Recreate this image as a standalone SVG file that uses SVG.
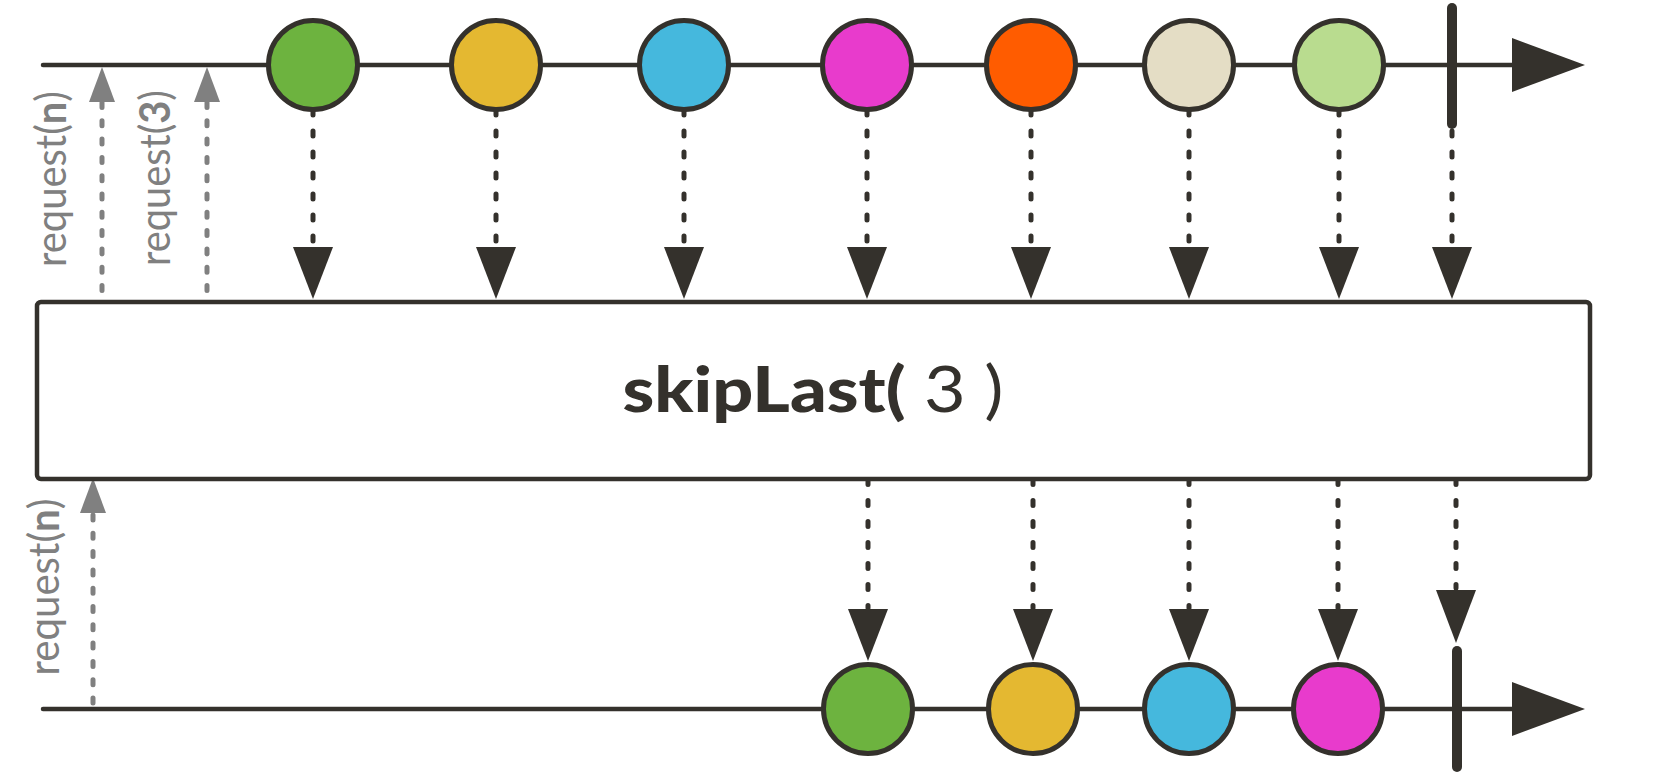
<svg xmlns="http://www.w3.org/2000/svg" width="1670" height="775" viewBox="0 0 1670 775">
  <style>
    .line { stroke: #34312c; stroke-width: 4.5; fill: none; stroke-linecap: round; }
    .term { stroke: #34312c; stroke-width: 10; stroke-linecap: round; }
    .dot { stroke: #34312c; stroke-width: 5; stroke-linecap: round; stroke-dasharray: 5 16; fill: none; }
    .gdot { stroke: #808080; stroke-width: 5; stroke-linecap: round; stroke-dasharray: 5 13.3; fill: none; }
    .head { fill: #34312c; }
    .ghead { fill: #808080; }
    .marble { stroke: #34312c; stroke-width: 5; }
    .label { font-family: Lato, "Open Sans", sans-serif; font-size: 42px; fill: #808080; }
    .title { font-family: Lato, "Open Sans", sans-serif; font-size: 63px; fill: #34312c; }
  </style>

  <!-- timelines -->
  <g id="source-timeline">
    <line class="line" x1="43" y1="65" x2="1515" y2="65"/>
    <polygon class="head" points="1512,38 1585,65 1512,92"/>
  </g>
  <g id="result-timeline">
    <line class="line" x1="43" y1="709" x2="1515" y2="709"/>
    <polygon class="head" points="1512,682 1585,709 1512,736"/>
  </g>

  <!-- connectors -->
  <g id="connectors">
    <!-- upstream emissions into the operator -->
    <line class="dot" x1="313" y1="110" x2="313" y2="243"/>
    <polygon class="head" points="293,247 333,247 313,299"/>
    <line class="dot" x1="496" y1="110" x2="496" y2="243"/>
    <polygon class="head" points="476,247 516,247 496,299"/>
    <line class="dot" x1="684" y1="110" x2="684" y2="243"/>
    <polygon class="head" points="664,247 704,247 684,299"/>
    <line class="dot" x1="867" y1="110" x2="867" y2="243"/>
    <polygon class="head" points="847,247 887,247 867,299"/>
    <line class="dot" x1="1031" y1="110" x2="1031" y2="243"/>
    <polygon class="head" points="1011,247 1051,247 1031,299"/>
    <line class="dot" x1="1189" y1="110" x2="1189" y2="243"/>
    <polygon class="head" points="1169,247 1209,247 1189,299"/>
    <line class="dot" x1="1339" y1="110" x2="1339" y2="243"/>
    <polygon class="head" points="1319,247 1359,247 1339,299"/>
    <line class="dot" x1="1452" y1="110" x2="1452" y2="243"/>
    <polygon class="head" points="1432,247 1472,247 1452,299"/>

    <!-- operator output -->
    <line class="dot" x1="868" y1="479.5" x2="868" y2="608"/>
    <polygon class="head" points="848,609 888,609 868,661"/>
    <line class="dot" x1="1033" y1="479.5" x2="1033" y2="608"/>
    <polygon class="head" points="1013,609 1053,609 1033,661"/>
    <line class="dot" x1="1189" y1="479.5" x2="1189" y2="608"/>
    <polygon class="head" points="1169,609 1209,609 1189,661"/>
    <line class="dot" x1="1338" y1="479.5" x2="1338" y2="608"/>
    <polygon class="head" points="1318,609 1358,609 1338,661"/>
    <line class="dot" x1="1456" y1="479.5" x2="1456" y2="588"/>
    <polygon class="head" points="1436,590 1476,590 1456,643"/>

    <!-- request signals -->
    <line class="gdot" x1="102" y1="102.5" x2="102" y2="293"/>
    <polygon class="ghead" points="102,67 89,102 115,102"/>
    <line class="gdot" x1="207" y1="102.5" x2="207" y2="293"/>
    <polygon class="ghead" points="207,67 194,102 220,102"/>
    <line class="gdot" x1="93" y1="515" x2="93" y2="706"/>
    <polygon class="ghead" points="93,478 80,513 106,513"/>
  </g>

  <!-- request labels -->
  <g id="request-labels">
    <text class="label" text-anchor="middle" transform="translate(66,179) rotate(-90)" textLength="176" lengthAdjust="spacingAndGlyphs">request(<tspan font-weight="bold">n</tspan>)</text>
    <text class="label" text-anchor="middle" transform="translate(170,178) rotate(-90)" textLength="176" lengthAdjust="spacingAndGlyphs">request(<tspan font-weight="bold">3</tspan>)</text>
    <text class="label" text-anchor="middle" transform="translate(59,587) rotate(-90)" textLength="177" lengthAdjust="spacingAndGlyphs">request(<tspan font-weight="bold">n</tspan>)</text>
  </g>

  <!-- operator box -->
  <g id="operator">
    <rect x="37" y="302" width="1553" height="177" rx="4" fill="#ffffff" stroke="#34312c" stroke-width="4.5"/>
    <text class="title" x="813" y="412" text-anchor="middle" textLength="381" lengthAdjust="spacingAndGlyphs"><tspan font-weight="900">skipLast(</tspan> 3 )</text>
  </g>

  <!-- source marbles -->
  <g id="src-1"><circle class="marble" cx="313" cy="65" r="44.5" fill="#6db33f"/></g>
  <g id="src-2"><circle class="marble" cx="496" cy="65" r="44.5" fill="#e4b831"/></g>
  <g id="src-3"><circle class="marble" cx="684" cy="65" r="44.5" fill="#45b8dd"/></g>
  <g id="src-4"><circle class="marble" cx="867" cy="65" r="44.5" fill="#e83bcc"/></g>
  <g id="src-5"><circle class="marble" cx="1031" cy="65" r="44.5" fill="#ff5c00"/></g>
  <g id="src-6"><circle class="marble" cx="1189" cy="65" r="44.5" fill="#e4ddc5"/></g>
  <g id="src-7"><circle class="marble" cx="1339" cy="65" r="44.5" fill="#b9dc8f"/></g>
  <g id="src-complete"><line class="term" x1="1452" y1="8" x2="1452" y2="124"/></g>

  <!-- result marbles -->
  <g id="out-1"><circle class="marble" cx="868" cy="709" r="44.5" fill="#6db33f"/></g>
  <g id="out-2"><circle class="marble" cx="1033" cy="709" r="44.5" fill="#e4b831"/></g>
  <g id="out-3"><circle class="marble" cx="1189" cy="709" r="44.5" fill="#45b8dd"/></g>
  <g id="out-4"><circle class="marble" cx="1338" cy="709" r="44.5" fill="#e83bcc"/></g>
  <g id="out-complete"><line class="term" x1="1457" y1="651" x2="1457" y2="767"/></g>
</svg>
